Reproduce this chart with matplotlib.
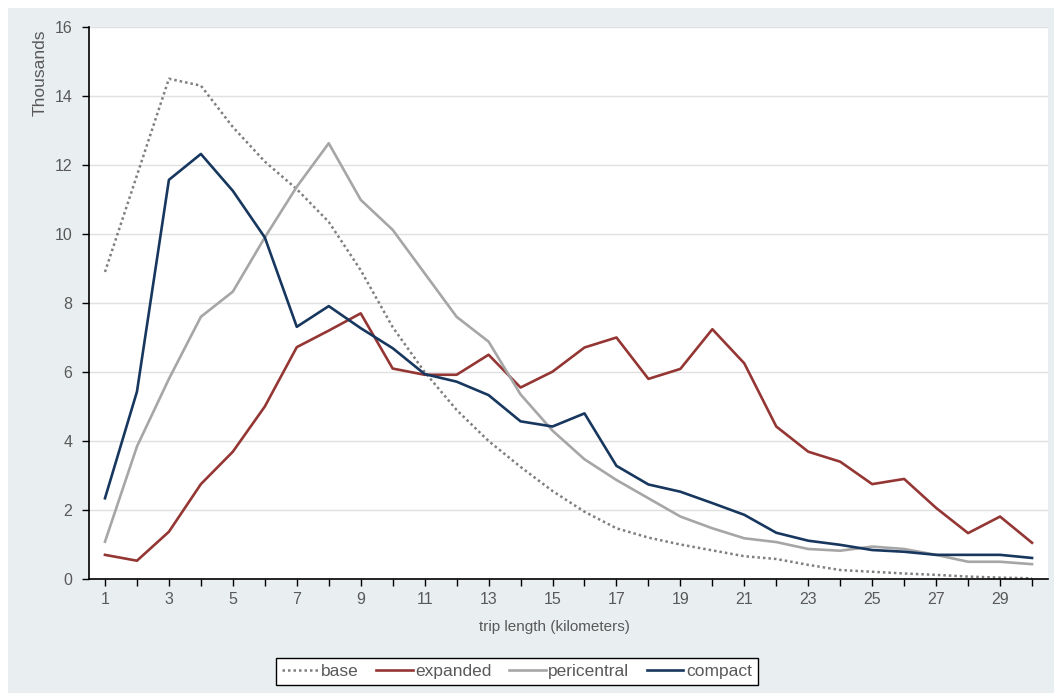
import matplotlib
matplotlib.use("Agg")
import matplotlib.pyplot as plt
from matplotlib.patches import Rectangle

plt.rcParams['font.family'] = ['Liberation Sans', 'DejaVu Sans']

trip_km = list(range(1, 31))
base = [8.9, 11.7, 14.5, 14.3, 13.1, 12.1, 11.3, 10.35, 8.95, 7.3,
        6.0, 4.9, 4.0, 3.25, 2.55, 1.95, 1.47, 1.2, 1.0, 0.83,
        0.66, 0.58, 0.41, 0.26, 0.21, 0.16, 0.12, 0.07, 0.04, 0.02]
expanded = [0.7, 0.53, 1.37, 2.75, 3.69, 5.0, 6.72, 7.2, 7.7, 6.1,
            5.92, 5.92, 6.5, 5.55, 6.01, 6.71, 7.0, 5.8, 6.09, 7.24,
            6.25, 4.42, 3.69, 3.4, 2.75, 2.9, 2.06, 1.33, 1.81, 1.05]
pericentral = [1.08, 3.84, 5.8, 7.6, 8.33, 9.9, 11.37, 12.63, 10.99, 10.12,
               8.86, 7.6, 6.88, 5.35, 4.3, 3.47, 2.87, 2.34, 1.81, 1.47,
               1.18, 1.07, 0.87, 0.82, 0.94, 0.87, 0.7, 0.5, 0.5, 0.43]
compact = [2.34, 5.43, 11.57, 12.32, 11.25, 9.9, 7.31, 7.91, 7.27, 6.69,
           5.94, 5.72, 5.33, 4.57, 4.42, 4.8, 3.28, 2.74, 2.53, 2.2,
           1.86, 1.34, 1.11, 0.99, 0.84, 0.79, 0.7, 0.7, 0.7, 0.61]

series_names = ["base", "expanded", "pericentral", "compact"]
y_ticks = list(range(0, 17, 2))

W, H = 1054, 693
fig = plt.figure(figsize=(W / 100, H / 100), dpi=100, facecolor='white')
bg = Rectangle((8 / W, 0), 1 - 8 / W, 1 - 8 / H,
               transform=fig.transFigure, facecolor='#e9eef0',
               edgecolor='none', zorder=-10)
fig.patches.append(bg)

ax = fig.add_axes([89 / W, 1 - 579 / H, (1048 - 89) / W, (579 - 27) / H])
ax.set_zorder(1)
ax.set_facecolor('white')

ax.plot(trip_km, base, color='#7f7f7f', lw=1.8, linestyle=(0, (1, 1.2)),
        label=series_names[0])
ax.plot(trip_km, expanded, color='#943634', lw=1.9, label=series_names[1])
ax.plot(trip_km, pericentral, color='#a6a6a6', lw=1.9, label=series_names[2])
ax.plot(trip_km, compact, color='#17375e', lw=1.9, label=series_names[3])

ax.set_xlim(0.5, 30.5)
ax.set_ylim(0, 16)
ax.set_yticks(y_ticks)
ax.set_xticks(trip_km)
ax.set_xticklabels([str(v) if v % 2 == 1 else '' for v in trip_km])

ax.grid(axis='y', color='#e0e0e0', lw=1)
ax.set_axisbelow(True)
for s in ['top', 'right']:
    ax.spines[s].set_visible(False)
for s in ['left', 'bottom']:
    ax.spines[s].set_color('#000000')
    ax.spines[s].set_linewidth(1.2)

ax.tick_params(axis='both', direction='out', length=5, width=1, color='#000000',
               labelcolor='#595959', labelsize=11.5)
ax.tick_params(axis='x', pad=4)
ax.tick_params(axis='y', pad=7)

ax.set_xlabel('trip length (kilometers)', fontsize=11, color='#595959', labelpad=10)
ax.xaxis.set_label_coords((554 - 89) / (1048 - 89), -0.075)
fig.text(40 / W, 1 - 30 / H, 'Thousands', rotation=90, ha='center', va='top',
         fontsize=12.5, color='#595959')

leg = fig.legend(loc='center', bbox_to_anchor=(517 / W, 1 - 671.5 / H), ncol=4,
                 frameon=True, fancybox=False, edgecolor='#000000',
                 facecolor='white', framealpha=1,
                 fontsize=12.5, handlelength=2.1, handletextpad=0.15,
                 columnspacing=1.0, borderpad=0.35, labelcolor='#595959')
leg.get_frame().set_linewidth(1.0)

fig.savefig('out.png', dpi=100, facecolor=fig.get_facecolor())
